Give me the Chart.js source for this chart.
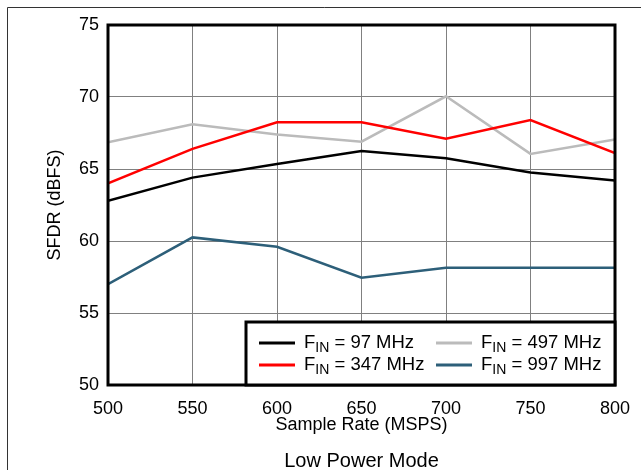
<!DOCTYPE html>
<html>
<head>
<meta charset="utf-8">
<script src="https://cdn.jsdelivr.net/npm/chart.js@4/dist/chart.umd.min.js"></script>
<style>
    html, body { margin: 0; padding: 0; background: #fff; }
    #wrap { width: 641px; height: 470px; position: relative; }
</style>
</head>
<body>
<div id="wrap"><canvas id="sfdrChart" width="641" height="470"></canvas></div>
<script>
// sample rates (MSPS) on the x axis
const sampleRates = [500, 550, 600, 650, 700, 750, 800];
// input frequencies (MHz), one per curve
const finValues = [97, 347, 497, 997];
// SFDR (dBFS)
const sfdr97 = [62.8, 64.4, 65.35, 66.25, 65.75, 64.75, 64.2];
const sfdr347 = [64.0, 66.4, 68.25, 68.25, 67.1, 68.4, 66.1];
const sfdr497 = [66.85, 68.1, 67.4, 66.9, 70.05, 66.05, 67.05];
const sfdr997 = [57.0, 60.25, 59.6, 57.45, 58.15, 58.15, 58.15];
const yTicks = [50, 55, 60, 65, 70, 75];
const caption = 'Low Power Mode';

const seriesColors = ['#000000', '#ff0000', '#bbbbbb', '#2d5f79'];
const seriesValues = [sfdr97, sfdr347, sfdr497, sfdr997];

const FONT = "'Liberation Sans', Arial, sans-serif";

function toPoints(values) {
    return values.map((v, i) => ({ x: sampleRates[i], y: v }));
}

// outer figure frame (top and left line) + caption under the plot
const framePlugin = {
    id: 'figFrame',
    beforeDraw(chart) {
        const c = chart.ctx;
        c.save();
        c.strokeStyle = '#333';
        c.lineWidth = 1;
        c.beginPath();
        c.moveTo(641, 7.5);
        c.lineTo(7.5, 7.5);
        c.lineTo(7.5, 470);
        c.stroke();
        c.restore();
    },
    afterDraw(chart) {
        const { ctx: c, chartArea: a } = chart;
        c.save();
        c.fillStyle = '#000';
        c.font = '20px ' + FONT;
        c.textAlign = 'center';
        c.textBaseline = 'middle';
        c.fillText(caption, (a.left + a.right) / 2, 461);
        c.restore();
    }
};

// thick box around the plot + legend box with subscripts
const plotBoxPlugin = {
    id: 'plotBox',
    afterDatasetsDraw(chart) {
        const { ctx: c, chartArea: a } = chart;
        c.save();
        c.strokeStyle = '#000';
        c.lineWidth = 3;
        c.strokeRect(a.left, a.top, a.right - a.left, a.bottom - a.top);

        // legend
        const w = 369, h = 63;
        const bx = a.right - w, by = a.bottom - h;
        c.fillStyle = '#fff';
        c.fillRect(bx, by, w, h);
        c.strokeRect(bx, by, w, h);

        const colX = [bx + 13, bx + 190];
        const rowY = [by + 21, by + 43];
        chart.data.datasets.forEach((ds, i) => {
            const col = Math.floor(i / 2), row = i % 2;
            const lx = colX[col], ly = rowY[row];
            c.strokeStyle = ds.borderColor;
            c.lineWidth = 3;
            c.beginPath();
            c.moveTo(lx, ly);
            c.lineTo(lx + 36, ly);
            c.stroke();

            c.fillStyle = '#000';
            c.textBaseline = 'middle';
            c.textAlign = 'left';
            let tx = lx + 45;
            c.font = '18.5px ' + FONT;
            c.fillText('F', tx, ly);
            tx += c.measureText('F').width;
            c.font = '14px ' + FONT;
            c.fillText('IN', tx, ly + 5);
            tx += c.measureText('IN').width;
            c.font = '18.5px ' + FONT;
            c.fillText(' = ' + finValues[i] + ' MHz', tx, ly);
        });
        c.restore();
    }
};

const chart = new Chart(document.getElementById('sfdrChart').getContext('2d'), {
    type: 'line',
    data: {
        datasets: seriesValues.map((vals, i) => ({
            label: 'FIN = ' + finValues[i] + ' MHz',
            data: toPoints(vals),
            borderColor: seriesColors[i],
            backgroundColor: seriesColors[i],
            borderWidth: 2.5,
            pointRadius: 0,
            tension: 0,
            fill: false
        }))
    },
    options: {
        responsive: false,
        animation: false,
        layout: { padding: { left: 40, right: 26, top: 25, bottom: 36 } },
        plugins: {
            legend: { display: false },
            tooltip: { enabled: false }
        },
        scales: {
            x: {
                type: 'linear',
                min: 500,
                max: 800,
                afterFit(scale) {
                    // let the layout padding alone decide the plot edges
                    scale.paddingLeft = 0;
                    scale.paddingRight = 0;
                },
                grid: { color: '#808080', lineWidth: 1, drawTicks: false },
                border: { display: false },
                ticks: {
                    stepSize: 50,
                    padding: 15,
                    color: '#000',
                    font: { family: FONT, size: 18, lineHeight: 1 }
                },
                title: {
                    display: true,
                    text: 'Sample Rate (MSPS)',
                    color: '#000',
                    font: { family: FONT, size: 18, lineHeight: 1 },
                    padding: { top: -17, bottom: 0 }
                }
            },
            y: {
                min: 50,
                max: 75,
                afterBuildTicks(scale) {
                    scale.ticks = yTicks.map(v => ({ value: v }));
                },
                afterFit(scale) { scale.width = 68; },
                grid: { color: '#808080', lineWidth: 1, drawTicks: false },
                border: { display: false },
                ticks: {
                    padding: 9,
                    color: '#000',
                    font: { family: FONT, size: 18 }
                },
                title: {
                    display: true,
                    text: 'SFDR (dBFS)',
                    color: '#000',
                    font: { family: FONT, size: 18 },
                    padding: { top: 4, bottom: 0 }
                }
            }
        }
    },
    plugins: [framePlugin, plotBoxPlugin]
});
</script>
</body>
</html>
